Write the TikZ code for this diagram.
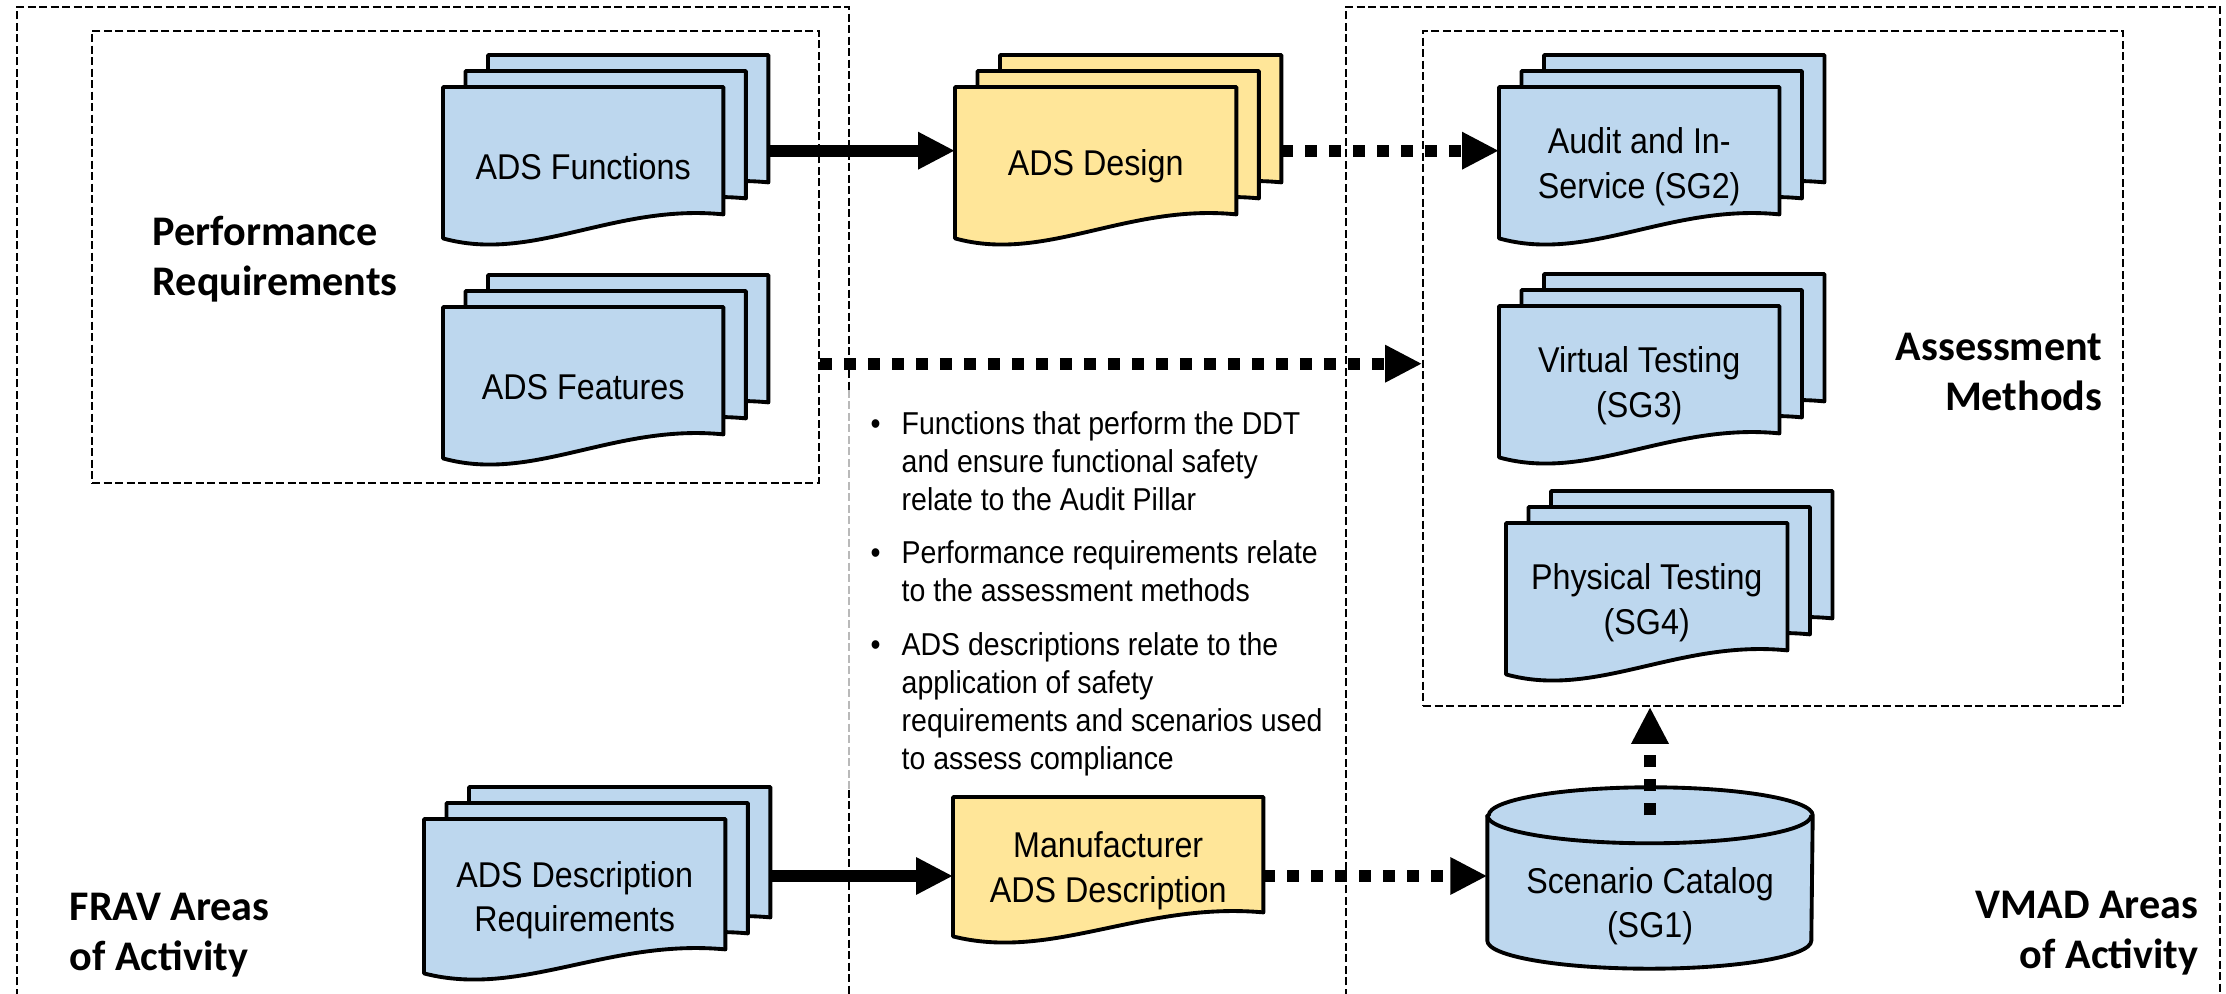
\documentclass[tikz,border=0pt]{standalone}
\usepackage{fontspec}
\setmainfont{Liberation Sans}
\newfontfamily\narrowsans[FakeStretch=0.9]{Liberation Sans}
\newfontfamily\calibrisans{Carlito}
\usetikzlibrary{arrows.meta,calc,positioning,backgrounds}

\definecolor{sheetblue}{RGB}{189,215,238}
\definecolor{sheetyellow}{RGB}{255,230,153}

% one page of a document shape around node #1, shifted by #3
\newcommand{\docsheet}[3]{%
  \draw[sheetline, fill=#2] ($(#1.north west)+#3$) -- ($(#1.north east)+#3$)
    -- ($(#1.south east)+(0,0.32)+#3$)
    .. controls ($(#1.south west)!0.61!(#1.south east)+(0,0.43)+#3$)
    and ($(#1.south west)!0.32!(#1.south east)+(0,-0.17)+#3$)
    .. ($(#1.south west)+(0,0.08)+#3$) -- cycle;}
% three pages, back to front
\newcommand{\docstack}[2]{%
  \docsheet{#1}{#2}{(0.45,0.32)}
  \docsheet{#1}{#2}{(0.225,0.16)}
  \docsheet{#1}{#2}{(0,0)}}

\begin{document}
\begin{tikzpicture}[
    sheetline/.style={line width=1.1pt, line join=round},
    docpage/.style 2 args={minimum width=#1cm, minimum height=#2cm, inner sep=0pt,
      anchor=north west, align=center, font=\narrowsans\fontsize{10.2}{12.6}\selectfont},
    areabox/.style={draw, line width=0.5pt, dash pattern=on 0.08cm off 0.035cm},
    headline/.style={font=\calibrisans\bfseries\fontsize{12}{14.2}\selectfont, inner sep=0pt},
    flow/.style={line width=0.12cm, -{Triangle[length=0.37cm, width=0.35cm]}},
    dotflow/.style={flow, dash pattern=on 0.12cm off 0.12cm},
  ]
  \useasboundingbox (0,0) rectangle (22.26,-9.94);

  % areas of activity
  \draw[areabox] (0.17,-10.2) |- (8.49,-0.07) -- (8.49,-3.9);
  \draw[areabox, gray!55] (8.49,-3.9) -- (8.49,-7.9);
  \draw[areabox] (8.49,-7.9) -- (8.49,-10.2);
  \draw[areabox] (13.46,-10.2) |- (22.20,-0.07) -- (22.20,-10.2);

  \node[areabox, minimum width=7.27cm, minimum height=4.52cm] (prbox) at (4.555,-2.57) {};
  \node[areabox, minimum width=7.00cm, minimum height=6.75cm] (meth) at (17.73,-3.685) {};

  % documents
  \node[docpage={2.79}{1.58}] (fun) at (4.43,-0.87) {ADS Functions};
  \node[docpage={2.79}{1.58}] (feat) at (4.43,-3.07) {ADS Features};
  \node[docpage={3.00}{1.61}] (req) at (4.24,-8.19) {ADS Description\\Requirements};
  \node[docpage={2.80}{1.58}] (des) at (9.55,-0.87) {ADS Design};
  \node[docpage={3.09}{1.46}] (mfr) at (9.53,-7.97) {Manufacturer\\ADS Description};
  \node[docpage={2.79}{1.58}] (aud) at (14.99,-0.87) {Audit and In-\\Service (SG2)};
  \node[docpage={2.79}{1.58}] (vir) at (14.99,-3.06) {Virtual Testing\\(SG3)};
  \node[docpage={2.80}{1.58}] (phy) at (15.06,-5.23) {Physical Testing\\(SG4)};
  \node[docpage={3.24}{1.24}, anchor=center] (cat) at (16.50,-9.06) {Scenario Catalog\\(SG1)};

  \begin{pgfonlayer}{background}
    \docstack{fun}{sheetblue}
    \docstack{feat}{sheetblue}
    \docstack{req}{sheetblue}
    \docstack{des}{sheetyellow}
    \docsheet{mfr}{sheetyellow}{(0,0)}
    \docstack{aud}{sheetblue}
    \docstack{vir}{sheetblue}
    \docstack{phy}{sheetblue}
    % scenario catalog cylinder
    \draw[sheetline, fill=sheetblue] ($(cat.north west)+(0,0.28)$) -- ($(cat.south west)+(0,0.28)$)
      arc[start angle=180, end angle=360, x radius=1.62cm, y radius=0.28cm]
      -- ($(cat.north east)+(0,0.28)$)
      arc[start angle=0, end angle=180, x radius=1.62cm, y radius=0.28cm] -- cycle;
    \draw[sheetline] ($(cat.north west)+(0,0.28)$)
      arc[start angle=180, end angle=360, x radius=1.62cm, y radius=0.28cm];
  \end{pgfonlayer}

  % labels
  \node[headline, align=left, anchor=west] (perflabel) at (1.52,-2.59) {Performance\\Requirements};
  \node[headline, align=right, anchor=east] (methlabel) at (21.03,-3.72) {Assessment\\Methods};
  \node[headline, align=left, anchor=west] (fravlabel) at (0.69,-9.35) {FRAV Areas\\of Activity};
  \node[headline, align=right, anchor=east] (vmadlabel) at (21.99,-9.33) {VMAD Areas\\of Activity};

  \node[anchor=north west, inner sep=0pt, font=\narrowsans\fontsize{9}{10.8}\selectfont] (notes) at (8.70,-4.07) {%
    \begin{tabular}{@{}p{0.31cm}@{}l@{}}
      \textbullet & Functions that perform the DDT\\
                  & and ensure functional safety\\
                  & relate to the Audit Pillar\\[4.5pt]
      \textbullet & Performance requirements relate\\
                  & to the assessment methods\\[4.5pt]
      \textbullet & ADS descriptions relate to the\\
                  & application of safety\\
                  & requirements and scenarios used\\
                  & to assess compliance
    \end{tabular}};

  % relations
  \draw[flow] ($(fun.east)+(0.45,0.16)$) -- ($(des.west)+(0,0.16)$);
  \draw[dotflow] ($(des.east)+(0.45,0.16)$) -- ($(aud.west)+(0,0.16)$);
  \draw[dotflow] ($(feat.east -| prbox.east)+(0,0.23)$) -- ($(feat.east -| meth.west)+(0,0.23)$);
  \coordinate (lowrow) at (0,-8.76);
  \draw[flow] ($(req.east |- lowrow)+(0.45,0)$) -- (mfr.west |- lowrow);
  \draw[dotflow] (mfr.east |- lowrow) -- (cat.west |- lowrow);
  \draw[dotflow] ($(cat.north)+(0,0.28)$) -- (cat.north |- meth.south);
\end{tikzpicture}
\end{document}
